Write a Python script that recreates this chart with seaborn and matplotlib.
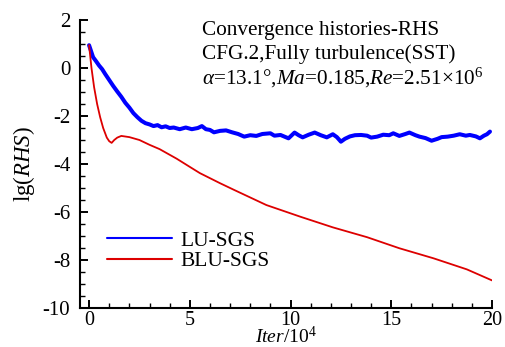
import numpy as np
import pandas as pd
import matplotlib
matplotlib.use("Agg")
import matplotlib.pyplot as plt
from matplotlib.ticker import MultipleLocator
import seaborn as sns

# ---- data ----
lu_x = [0.0, 0.1, 0.2, 0.35, 0.5, 0.65, 0.8, 1.0, 1.2, 1.4, 1.6, 1.8, 2.0, 2.2, 2.4,
        2.6, 2.8, 3.0, 3.2, 3.4, 3.6, 3.8, 4.0, 4.2, 4.5, 4.8, 5.1, 5.4, 5.6, 5.8,
        6.0, 6.2, 6.5, 6.8, 7.1, 7.4, 7.7, 8.0, 8.3, 8.6, 9.0, 9.2, 9.5, 9.9, 10.2,
        10.4, 10.6, 10.9, 11.2, 11.5, 11.8, 12.1, 12.3, 12.5, 12.7, 12.95, 13.2, 13.5,
        13.8, 14.0, 14.3, 14.6, 14.9, 15.1, 15.4, 15.7, 15.9, 16.2, 16.4, 16.7, 17.0,
        17.3, 17.5, 17.8, 18.1, 18.4, 18.7, 18.9, 19.2, 19.4, 19.6, 19.75, 19.9]
lu_y = [0.95, 0.7, 0.45, 0.28, 0.1, -0.05, -0.25, -0.5, -0.75, -0.98, -1.2, -1.45,
        -1.65, -1.88, -2.05, -2.2, -2.3, -2.35, -2.42, -2.38, -2.47, -2.43, -2.5,
        -2.48, -2.55, -2.48, -2.55, -2.5, -2.42, -2.55, -2.58, -2.68, -2.62, -2.6,
        -2.68, -2.75, -2.86, -2.8, -2.83, -2.75, -2.72, -2.82, -2.79, -2.93, -2.69,
        -2.8, -2.89, -2.78, -2.69, -2.8, -2.89, -2.76, -2.88, -3.07, -2.95, -2.85,
        -2.8, -2.79, -2.82, -2.9, -2.86, -2.78, -2.8, -2.72, -2.83, -2.75, -2.69,
        -2.8, -2.86, -2.92, -3.03, -2.95, -2.88, -2.86, -2.82, -2.76, -2.82, -2.79,
        -2.85, -2.93, -2.82, -2.76, -2.65]

blu_x = [0.0, 0.12, 0.25, 0.4, 0.55, 0.7, 0.88, 1.0, 1.12, 1.25, 1.4, 1.6, 2.0, 2.5,
         3.0, 3.5, 4.35, 5.0, 5.5, 6.5, 7.2, 8.8, 10.5, 12.1, 13.8, 15.4, 17.1, 18.75, 20.0]
blu_y = [0.95, 0.0, -0.8, -1.5, -2.05, -2.5, -2.9, -3.05, -3.12, -3.0, -2.9, -2.83,
         -2.88, -3.0, -3.2, -3.38, -3.78, -4.12, -4.38, -4.8, -5.08, -5.71, -6.2,
         -6.64, -7.05, -7.51, -7.93, -8.39, -8.85]

labels = ["LU-SGS", "BLU-SGS"]

# ---- style ----
sns.set_style("ticks")
plt.rcParams["font.family"] = ["Liberation Serif", "DejaVu Serif"]
plt.rcParams["mathtext.fontset"] = "custom"
plt.rcParams["mathtext.rm"] = "Liberation Serif"
plt.rcParams["mathtext.it"] = "Liberation Serif:italic"
plt.rcParams["mathtext.bf"] = "Liberation Serif:bold"
plt.rcParams["axes.unicode_minus"] = False
plt.rcParams["text.color"] = "black"
plt.rcParams["axes.labelcolor"] = "black"

fig = plt.figure(figsize=(5.05, 3.47), dpi=100)
ax = fig.add_axes([80 / 505, 1 - 308 / 347, (492 - 80) / 505, (308 - 20) / 347])

df_lu = pd.DataFrame({"x": lu_x, "y": lu_y})
df_blu = pd.DataFrame({"x": blu_x, "y": blu_y})
sns.lineplot(data=df_lu, x="x", y="y", ax=ax, color="#0000ff", lw=2.9,
             label=labels[0], sort=False)
sns.lineplot(data=df_blu, x="x", y="y", ax=ax, color="#dd0000", lw=1.3,
             label=labels[1], sort=False)

ax.set_xlim(-0.45, 20)
ax.set_ylim(-10, 2)
ax.xaxis.set_major_locator(MultipleLocator(5))
ax.xaxis.set_minor_locator(MultipleLocator(1))
ax.yaxis.set_major_locator(MultipleLocator(2))
ax.yaxis.set_minor_locator(MultipleLocator(0.5))
ax.tick_params(which="both", direction="in", colors="black", labelsize=15)
ax.tick_params(which="major", length=6, width=1.4)
ax.tick_params(which="minor", length=3.5, width=1.0)
ax.tick_params(axis="x", which="major", pad=2, labelsize=14.5)
ax.tick_params(axis="y", which="major", pad=7)
sns.despine(ax=ax)
for s in ["left", "bottom"]:
    ax.spines[s].set_linewidth(1.5)
    ax.spines[s].set_color("black")

ax.set_xlabel(r"$Iter$/10$^4$", fontsize=14, labelpad=-2.5)
ax.set_ylabel(r"lg($RHS$)", fontsize=16.5, labelpad=4)

fs = 15.3
ax.text(0.296, 0.965, "Convergence histories-RHS", transform=ax.transAxes,
        fontsize=fs, va="center", ha="left")
ax.text(0.296, 0.880, "CFG.2,Fully turbulence(SST)", transform=ax.transAxes,
        fontsize=fs, va="center", ha="left")
ax.text(0.296, 0.800, r"$\alpha$=13.1°,$Ma$=0.185,$Re$=2.51×10$^6$",
        transform=ax.transAxes, fontsize=fs, va="center", ha="left")

leg = ax.legend(loc="center left", bbox_to_anchor=(0.066, 0.198), frameon=False,
                fontsize=15.5, handlelength=3.0, handletextpad=0.4,
                labelspacing=0.0, borderpad=0, borderaxespad=0)
for h in leg.get_lines():
    h.set_linewidth(1.5)

fig.savefig("out.png", dpi=100)
